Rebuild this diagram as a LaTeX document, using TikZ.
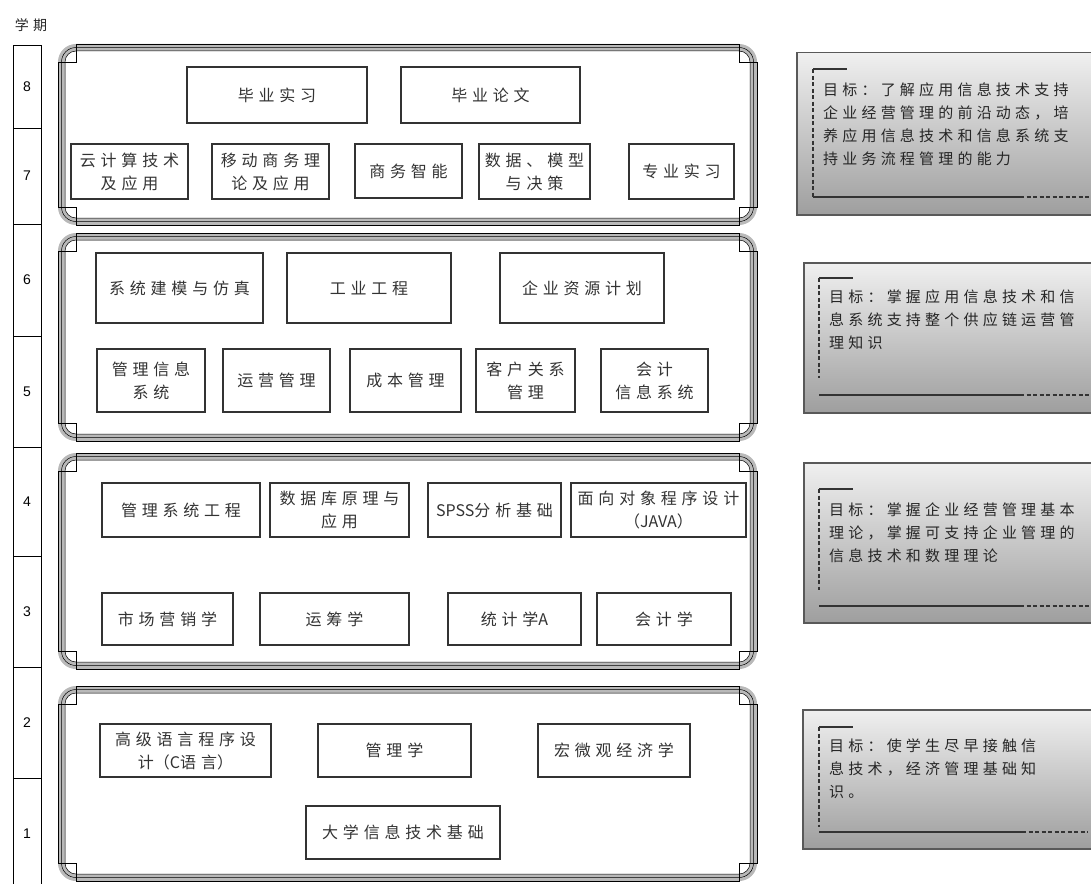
\documentclass[tikz,border=0pt]{standalone}
\usepackage{fontspec}
\setmainfont{Liberation Sans}
\newfontfamily\cjk[LetterSpace=30]{Noto Sans CJK SC}
\newfontfamily\cjkgoal[LetterSpace=28]{Noto Sans CJK SC}
\newfontfamily\cjkplain{Noto Sans CJK SC}

\begin{document}
\begin{tikzpicture}[x=1pt, y=-1pt,
  course/.style={draw=black!80, line width=1.1pt, fill=white, inner sep=0pt, align=center,
    font=\cjk\fontsize{16}{23}\selectfont, text=black!80},
  semcell/.style={draw, line width=0.8pt, inner sep=0pt, minimum width=28pt,
    font=\fontsize{14}{16}\selectfont},
  goalbox/.style={draw=black!65, line width=1.5pt, top color=black!6, bottom color=black!38,
    inner sep=0pt, anchor=north west},
  goaltext/.style={anchor=north west, inner sep=0pt, align=left,
    font=\cjkgoal\fontsize{15}{23}\selectfont, text=black!85},
  goalline/.style={black!80, line width=1.2pt},
  goaldash/.style={goalline, dash pattern=on 4pt off 2.5pt}]

  \useasboundingbox (0,0) rectangle (1091,883);
  \clip (0,0) rectangle (1091,883);

  % Semester column
  \node[font=\cjk\fontsize{14}{16}\selectfont, text=black!85] (xueqi) at (31,25) {学期};
  \node[semcell, minimum height=83pt] (s8) at (27,86.5) {8};
  \node[semcell, minimum height=96pt] (s7) at (27,176) {7};
  \node[semcell, minimum height=112pt] (s6) at (27,280) {6};
  \node[semcell, minimum height=111pt] (s5) at (27,391.5) {5};
  \node[semcell, minimum height=109pt] (s4) at (27,501.5) {4};
  \node[semcell, minimum height=111pt] (s3) at (27,611.5) {3};
  \node[semcell, minimum height=111pt] (s2) at (27,722.5) {2};
  \node[semcell, minimum height=112pt] (s1) at (27,834) {1};

  % Frames round the course groups
  \foreach \xa/\ya/\xb/\yb in {58/44/757/225, 58/233/757/441, 58/453/757/669, 58/686/757/881} {
    \draw[gray!55, line width=7pt, rounded corners=14.5pt] (\xa+3.5,\ya+3.5) rectangle (\xb-3.5,\yb-3.5);
    \draw[line width=0.5pt, rounded corners=14.5pt] (\xa+3.5,\ya+3.5) rectangle (\xb-3.5,\yb-3.5);
    \draw[line width=0.5pt, rounded corners=11pt] (\xa+7,\ya+7) rectangle (\xb-7,\yb-7);
    \draw[line width=0.5pt] (\xa,\ya+18) -- (\xa+18,\ya+18) -- (\xa+18,\ya) -- (\xb-18,\ya)
      -- (\xb-18,\ya+18) -- (\xb,\ya+18) -- (\xb,\yb-18) -- (\xb-18,\yb-18) -- (\xb-18,\yb)
      -- (\xa+18,\yb) -- (\xa+18,\yb-18) -- (\xa,\yb-18) -- cycle;
  }

  % Semesters 7--8
  \node[course, minimum width=180pt, minimum height=56pt] (bysx) at (277,95) {毕业实习};
  \node[course, minimum width=179pt, minimum height=56pt] (bylw) at (490.5,95) {毕业论文};
  \node[course, minimum width=117pt, minimum height=55pt] (yjs) at (129.5,171.5) {云计算技术\\及应用};
  \node[course, minimum width=117pt, minimum height=55pt] (ydsw) at (270.5,171.5) {移动商务理\\论及应用};
  \node[course, minimum width=107pt, minimum height=54pt] (swzn) at (408.5,171) {商务智能};
  \node[course, minimum width=111pt, minimum height=55pt] (sjmx) at (534.5,171.5) {数据、模型\\与决策};
  \node[course, minimum width=105pt, minimum height=55pt] (zysx) at (681.5,171.5) {专业实习};

  % Semesters 5--6
  \node[course, minimum width=167pt, minimum height=70pt] (xtjm) at (179.5,288) {系统建模与仿真};
  \node[course, minimum width=164pt, minimum height=70pt] (gygc) at (369,288) {工业工程};
  \node[course, minimum width=164pt, minimum height=70pt] (qyzy) at (582,288) {企业资源计划};
  \node[course, minimum width=108pt, minimum height=63pt] (glxx) at (151,380.5) {管理信息\\系统};
  \node[course, minimum width=107pt, minimum height=63pt] (yygl) at (276.5,380.5) {运营管理};
  \node[course, minimum width=111pt, minimum height=63pt] (cbgl) at (405.5,380.5) {成本管理};
  \node[course, minimum width=99pt, minimum height=63pt] (khgx) at (525.5,380.5) {客户关系\\管理};
  \node[course, minimum width=107pt, minimum height=63pt] (kjxx) at (654.5,380.5) {会计\\信息系统};

  % Semesters 3--4
  \node[course, minimum width=158pt, minimum height=54pt] (glxt) at (181,510) {管理系统工程};
  \node[course, minimum width=139pt, minimum height=54pt] (sjk) at (339.5,510) {数据库原理与\\应用};
  \node[course, minimum width=133pt, minimum height=54pt] (spss) at (494.5,510) {{\cjkplain SPSS}分析基础};
  \node[course, minimum width=175pt, minimum height=54pt] (java) at (658.5,510) {面向对象程序设计\\{\cjkplain （JAVA）}};
  \node[course, minimum width=131pt, minimum height=52pt] (scyx) at (167.5,619) {市场营销学};
  \node[course, minimum width=149pt, minimum height=52pt] (ycx) at (334.5,619) {运筹学};
  \node[course, minimum width=133pt, minimum height=52pt] (tjx) at (514.5,619) {统计学{\cjkplain A}};
  \node[course, minimum width=134pt, minimum height=52pt] (kjx) at (664,619) {会计学};

  % Semesters 1--2
  \node[course, minimum width=171pt, minimum height=53pt] (gjyy) at (185.5,750.5) {高级语言程序设\\计{\cjkplain （C}语言{\cjkplain ）}};
  \node[course, minimum width=153pt, minimum height=53pt] (glx) at (394.5,750.5) {管理学};
  \node[course, minimum width=152pt, minimum height=53pt] (hwg) at (614,750.5) {宏微观经济学};
  \node[course, minimum width=194pt, minimum height=53pt] (dxxx) at (403,832.5) {大学信息技术基础};

  % Goal boxes
  \node[goalbox, minimum width=299pt, minimum height=162pt] (goal4) at (796,52) {};
  \draw[goaldash] (813,69) -- (813,197);
  \draw[goalline] (813,69) -- (847,69);
  \draw[goalline] (813,197) -- (1020,197);
  \draw[goaldash] (1020,197) -- (1091,197);
  \node[goaltext] (goal4txt) at (823,83) {目标：了解应用信息技术支持\\企业经营管理的前沿动态，培\\养应用信息技术和信息系统支\\持业务流程管理的能力};

  \node[goalbox, minimum width=292pt, minimum height=150pt] (goal3) at (803,262) {};
  \draw[goaldash] (819,278) -- (819,378);
  \draw[goalline] (819,278) -- (853,278);
  \draw[goalline] (819,395) -- (1020,395);
  \draw[goaldash] (1020,395) -- (1091,395);
  \node[goaltext] (goal3txt) at (829,290) {目标：掌握应用信息技术和信\\息系统支持整个供应链运营管\\理知识};

  \node[goalbox, minimum width=292pt, minimum height=160pt] (goal2) at (803,462) {};
  \draw[goaldash] (819,489) -- (819,590);
  \draw[goalline] (819,489) -- (853,489);
  \draw[goalline] (819,606) -- (1020,606);
  \draw[goaldash] (1020,606) -- (1091,606);
  \node[goaltext] (goal2txt) at (829,503) {目标：掌握企业经营管理基本\\理论，掌握可支持企业管理的\\信息技术和数理理论};

  \node[goalbox, minimum width=293pt, minimum height=139pt] (goal1) at (802,709) {};
  \draw[goaldash] (819,727) -- (819,827);
  \draw[goalline] (819,727) -- (853,727);
  \draw[goalline] (819,832) -- (1022,832);
  \draw[goaldash] (1022,832) -- (1088,832);
  \node[goaltext] (goal1txt) at (829,739) {目标：使学生尽早接触信\\息技术，经济管理基础知\\识。};
\end{tikzpicture}
\end{document}
